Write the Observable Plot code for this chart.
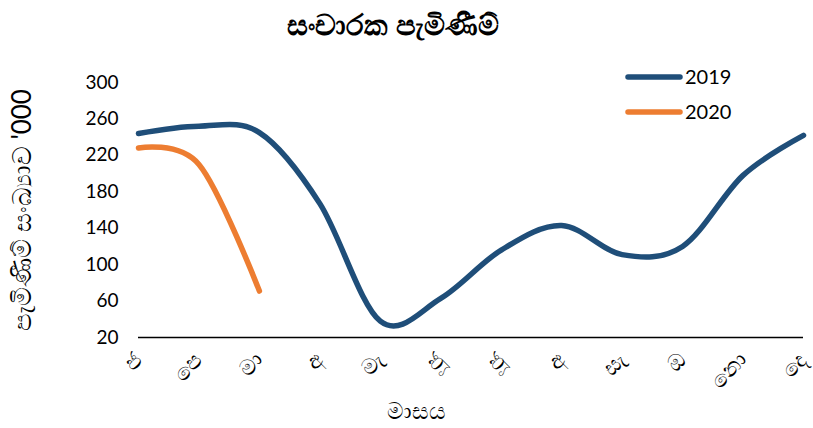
<!DOCTYPE html>
<html>
<head>
<meta charset="utf-8">
<script src="https://cdn.jsdelivr.net/npm/d3@7"></script>
<script src="https://cdn.jsdelivr.net/npm/@observablehq/plot@0.6"></script>
<style>
  html, body { margin: 0; padding: 0; background: #fff; }
  #wrap { position: relative; width: 813px; height: 428px; font-family: "Noto Sans Sinhala", "Noto Sans", "DejaVu Sans", sans-serif; }
  #legend { position: absolute; left: 0; top: 0; pointer-events: none; }
</style>
</head>
<body>
<div id="wrap"></div>
<script>
const title = "සංචාරක පැමිණීම්";
const yLabel = "පැමිණීම් සංඛ්‍යාව '000";
const xLabel = "මාසය";
const months = ["ජ", "පෙ", "මා", "අ", "මැ", "ජූ", "ජූ", "අ", "සැ", "ඔ", "නො", "දෙ"];
const series = ["2019", "2020"];
const colors = ["#1F4E79", "#ED7D31"];
const v2019 = [244, 252, 245, 167, 38, 63, 116, 143, 111, 120, 198, 242];
const v2020 = [228, 210, 71];
const yTicks = [20, 60, 100, 140, 180, 220, 260, 300];

const data = [
  ...v2019.map((v, i) => ({ series: "2019", m: i, v })),
  ...v2020.map((v, i) => ({ series: "2020", m: i, v }))
];

const font = '"Lato", "Noto Sans", sans-serif';

const chart = Plot.plot({
  width: 813,
  height: 428,
  marginLeft: 138,
  marginRight: 10,
  marginTop: 82,
  marginBottom: 91,
  style: { fontFamily: font, color: "#000", background: "#fff", overflow: "visible" },
  x: { domain: [0, 11], axis: null },
  y: { domain: [20, 300], axis: null },
  color: { domain: series, range: colors },
  marks: [
    Plot.axisY({ ticks: yTicks, tickSize: 0, tickPadding: 20, fontSize: 19, label: null, fill: "#000" }),
    Plot.axisX({ ticks: d3.range(12), tickFormat: i => months[i], tickRotate: -45, tickSize: 0, tickPadding: 19, fontSize: 22, label: null, fill: "#000" }),
    Plot.ruleY([20], { stroke: "#000", strokeWidth: 1.5 }),
    Plot.line(data, {
      x: "m", y: "v", z: "series", stroke: "series",
      strokeWidth: 5.5, strokeLinecap: "round", strokeLinejoin: "round",
      curve: d3.curveCardinal.tension(0)
    }),
    Plot.text([title], { frameAnchor: "top", dx: -78, dy: -57, textAnchor: "middle", lineAnchor: "middle", fontSize: 29, fontWeight: "bold", fill: "#000" }),
    Plot.text([yLabel], { frameAnchor: "left", dx: -116, rotate: -90, textAnchor: "middle", lineAnchor: "middle", fontSize: 26, fill: "#000" }),
    Plot.text([xLabel], { frameAnchor: "bottom", dx: -55, dy: 74, textAnchor: "middle", lineAnchor: "middle", fontSize: 23, fill: "#000" })
  ]
});

const wrap = document.getElementById("wrap");
wrap.appendChild(chart);

// legend
const ns = "http://www.w3.org/2000/svg";
const leg = document.createElementNS(ns, "svg");
leg.setAttribute("id", "legend");
leg.setAttribute("width", 813);
leg.setAttribute("height", 428);
series.forEach((s, i) => {
  const y = 77 + i * 35;
  const l = document.createElementNS(ns, "line");
  l.setAttribute("x1", 628); l.setAttribute("x2", 680);
  l.setAttribute("y1", y); l.setAttribute("y2", y);
  l.setAttribute("stroke", colors[i]);
  l.setAttribute("stroke-width", 5.5);
  l.setAttribute("stroke-linecap", "round");
  leg.appendChild(l);
  const t = document.createElementNS(ns, "text");
  t.setAttribute("x", 685); t.setAttribute("y", y);
  t.setAttribute("dy", "0.36em");
  t.setAttribute("font-size", 20);
  t.setAttribute("font-family", font);
  t.textContent = s;
  leg.appendChild(t);
});
wrap.appendChild(leg);
</script>
</body>
</html>
